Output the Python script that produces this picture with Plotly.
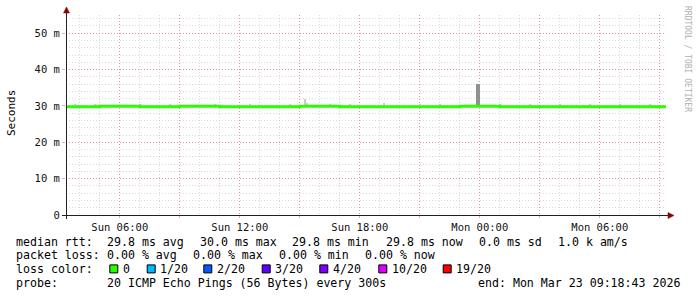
import plotly.graph_objects as go
import pandas as pd

# ---------------- data ----------------
t_start = "2026-03-22 03:18:43"
t_end = "2026-03-23 09:18:43"

rtt_time = ["2026-03-22 03:18:43", "2026-03-22 05:00", "2026-03-22 07:00", "2026-03-22 09:00",
            "2026-03-22 11:00", "2026-03-22 13:00", "2026-03-22 15:00", "2026-03-22 17:00",
            "2026-03-22 19:00", "2026-03-22 21:00", "2026-03-22 23:00", "2026-03-23 01:00",
            "2026-03-23 03:00", "2026-03-23 05:00", "2026-03-23 07:00", "2026-03-23 09:18:43"]
rtt_median_ms = [29.8, 29.9, 29.8, 29.9, 29.8, 29.8, 29.9, 29.8,
                 29.8, 29.8, 29.9, 29.8, 29.8, 29.8, 29.8, 29.8]

smoke_time = ["2026-03-22 03:45", "2026-03-22 04:45", "2026-03-22 07:00", "2026-03-22 08:30",
              "2026-03-22 10:45", "2026-03-22 12:30", "2026-03-22 14:30", "2026-03-22 15:15",
              "2026-03-22 15:20", "2026-03-22 16:30", "2026-03-22 17:30", "2026-03-22 19:10",
              "2026-03-22 21:00", "2026-03-22 22:00", "2026-03-22 23:50", "2026-03-22 23:55",
              "2026-03-23 01:00", "2026-03-23 02:30", "2026-03-23 04:00", "2026-03-23 05:30",
              "2026-03-23 07:00", "2026-03-23 08:30"]
smoke_top_ms = [30.5, 30.5, 30.6, 30.4, 30.5, 30.5, 30.4, 31.8,
                30.9, 30.5, 30.4, 30.8, 30.5, 30.4, 36.0, 36.0,
                30.5, 30.4, 30.5, 30.5, 30.4, 30.5]
smoke_base_ms = 29.8

x_tick_time = ["2026-03-22 06:00", "2026-03-22 09:00", "2026-03-22 12:00", "2026-03-22 15:00",
               "2026-03-22 18:00", "2026-03-22 21:00", "2026-03-23 00:00", "2026-03-23 03:00",
               "2026-03-23 06:00", "2026-03-23 09:00"]
x_tick_label = ["Sun 06:00", "", "Sun 12:00", "", "Sun 18:00", "", "Mon 00:00", "", "Mon 06:00", ""]
y_tick_ms = [0, 10, 20, 30, 40, 50]
y_tick_label = ["0", "10 m", "20 m", "30 m", "40 m", "50 m"]

rtt_stats = ["29.8 ms avg", "30.0 ms max", "29.8 ms min", "29.8 ms now", "0.0 ms sd", "1.0 k am/s"]
loss_stats = ["0.00 % avg", "0.00 % max", "0.00 % min", "0.00 % now"]
loss_labels = ["0", "1/20", "2/20", "3/20", "4/20", "10/20", "19/20"]
probe_text = "20 ICMP Echo Pings (56 Bytes) every 300s"
end_text = "end: Mon Mar 23 09:18:43 2026"

# ---------------- styles / layout ----------------
loss_colors = ["#26ff00", "#00b8ff", "#0059ff", "#5e00ff", "#7e00ff", "#dd00ff", "#ff0000"]
W, H = 697, 297
L, R, T, B = 66, 31, 15, 82
PW, PH = W - L - R, H - T - B
Y_MAX = 55.0
MONO = "DejaVu Sans Mono"
MINOR = "rgba(150,150,150,0.35)"
MAJOR = "rgba(220,90,90,0.5)"

def fx(px):
    return (px - L) / PW

def fy(py):
    return (T + PH - py) / PH

def to_dt(lst):
    return pd.to_datetime(lst, format="ISO8601")

fig = go.Figure()

# smoke
smoke_colors = ["#909090" if v > 33 else "#cccccc" for v in smoke_top_ms]
fig.add_trace(go.Bar(
    x=to_dt(smoke_time), y=[v - smoke_base_ms for v in smoke_top_ms],
    base=smoke_base_ms, width=300000, marker=dict(color=smoke_colors, line=dict(width=0)),
    offset=0, showlegend=False, hoverinfo="skip"))

# median line
fig.add_trace(go.Scatter(
    x=to_dt(rtt_time), y=rtt_median_ms, mode="lines",
    line=dict(color=loss_colors[0], width=3, shape="hv"), showlegend=False))

fig.update_layout(
    width=W, height=H, autosize=False,
    margin=dict(l=L, r=R, t=T, b=B, pad=0),
    paper_bgcolor="white", plot_bgcolor="white",
    showlegend=False, bargap=0,
    font=dict(family=MONO, size=10.5, color="#000000"),
    xaxis=dict(
        type="date", range=[t_start, t_end],
        tickmode="array", tickvals=x_tick_time, ticktext=x_tick_label,
        showgrid=True, gridcolor=MAJOR, griddash="1px,2px", gridwidth=1,
        ticks="outside", ticklen=2, tickcolor=MAJOR, tickwidth=1,
        zeroline=False, showline=False,
        tickfont=dict(family=MONO, size=10.5, color="#111111"),
        minor=dict(tickmode="linear", tick0="2026-03-22 00:00", dtick=3600000,
                   showgrid=True, gridcolor=MINOR, griddash="1px,2px", gridwidth=1, ticks=""),
        fixedrange=True,
    ),
    yaxis=dict(
        range=[0, Y_MAX], tickmode="array", tickvals=y_tick_ms, ticktext=y_tick_label,
        showgrid=True, gridcolor=MAJOR, griddash="1px,2px", gridwidth=1,
        ticks="outside", ticklen=3, tickcolor=MAJOR, tickwidth=1,
        zeroline=False, showline=False,
        tickfont=dict(family=MONO, size=10.5, color="#111111"),
        minor=dict(tickmode="linear", tick0=0, dtick=2,
                   showgrid=True, gridcolor=MINOR, griddash="1px,2px", gridwidth=1, ticks=""),
        fixedrange=True,
    ),
)

shapes = []
AX = "#202020"
ARROW = "#8b0000"
# axes lines
shapes.append(dict(type="line", xref="paper", yref="paper", x0=fx(66.5), x1=fx(66.5),
                   y0=fy(219), y1=fy(12), line=dict(color=AX, width=1), layer="above"))
shapes.append(dict(type="line", xref="paper", yref="paper", x0=fx(62), x1=fx(669),
                   y0=fy(215.5), y1=fy(215.5), line=dict(color=AX, width=1), layer="above"))
# arrows
shapes.append(dict(type="path", xref="paper", yref="paper",
                   path=f"M {fx(66.5)} {fy(7)} L {fx(63.5)} {fy(13)} L {fx(69.5)} {fy(13)} Z",
                   fillcolor=ARROW, line=dict(color=ARROW, width=0.5), layer="above"))
shapes.append(dict(type="path", xref="paper", yref="paper",
                   path=f"M {fx(674)} {fy(215.5)} L {fx(668)} {fy(212.5)} L {fx(668)} {fy(218.5)} Z",
                   fillcolor=ARROW, line=dict(color=ARROW, width=0.5), layer="above"))

ann = []
LEG = dict(family=MONO, size=11.6, color="#000000")

def text(px, py, s, **kw):
    d = dict(xref="paper", yref="paper", x=fx(px), y=fy(py), text=s, showarrow=False,
             xanchor="left", yanchor="middle", font=LEG, borderpad=0, borderwidth=0)
    d.update(kw)
    ann.append(d)

row_y = [241.5, 255.2, 268.9, 282.6]
text(16, row_y[0], "median rtt:")
for px, s in zip([107.3, 200, 292.3, 385.7, 479, 558.3], rtt_stats):
    text(px, row_y[0], s)
text(16, row_y[1], "packet loss:")
for px, s in zip([107.3, 193.3, 279.3, 365], loss_stats):
    text(px, row_y[1], s)
text(16, row_y[2], "loss color:")
box_x = [109.3, 146.7, 203.3, 261.7, 319.3, 378.3, 442.7]
for bx, lab, col in zip(box_x, loss_labels, loss_colors):
    shapes.append(dict(type="rect", xref="paper", yref="paper",
                       x0=fx(bx + 0.5), x1=fx(bx + 8.5), y0=fy(row_y[2] - 4), y1=fy(row_y[2] + 4),
                       fillcolor=col, line=dict(color="#000000", width=1), layer="above"))
    text(bx + 13.5, row_y[2], lab)
text(16, row_y[3], "probe:")
text(107.3, row_y[3], probe_text)
text(478.3, row_y[3], end_text)

# y-axis title
ann.append(dict(xref="paper", yref="paper", x=fx(11), y=fy(113), text="Seconds", showarrow=False,
                textangle=-90, xanchor="center", yanchor="middle",
                font=dict(family=MONO, size=11, color="#000000")))
# watermark
ann.append(dict(xref="paper", yref="paper", x=fx(687), y=fy(59), text="RRDTOOL / TOBI OETIKER",
                showarrow=False, textangle=90, xanchor="center", yanchor="middle",
                font=dict(family=MONO, size=8, color="#b0b0b0")))

fig.update_layout(shapes=shapes, annotations=ann)
fig.write_html("out.html")
